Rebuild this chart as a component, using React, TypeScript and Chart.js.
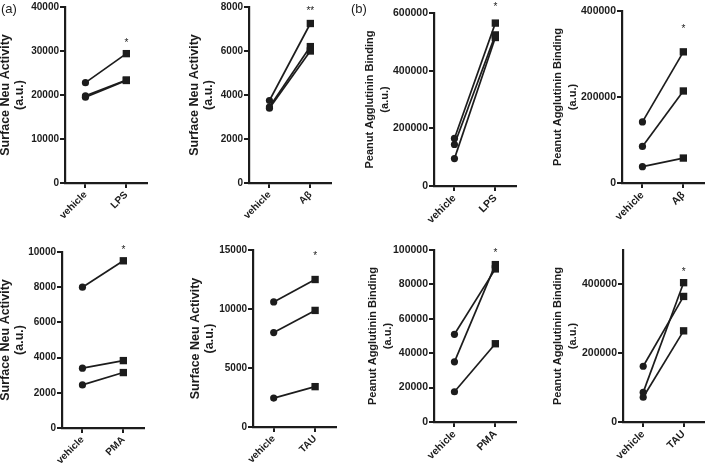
import React, { useEffect, useRef } from 'react';
import { Chart, registerables } from 'chart.js';

Chart.register(...registerables);

const FONT = "'Liberation Sans', Arial, Helvetica, sans-serif";
const INK = '#1c1c1c';

// ---- data (a) Surface Neu Activity ----
const p1Labels = ['vehicle', 'LPS'];
const p1Vehicle = [22800, 19800, 19500];
const p1Treated = [29400, 23400, 23300];

const p2Labels = ['vehicle', 'Aβ'];
const p2Vehicle = [3750, 3450, 3400];
const p2Treated = [7250, 6200, 6000];

const p5Labels = ['vehicle', 'PMA'];
const p5Vehicle = [8000, 3400, 2450];
const p5Treated = [9500, 3830, 3150];

const p6Labels = ['vehicle', 'TAU'];
const p6Vehicle = [10600, 8000, 2450];
const p6Treated = [12500, 9880, 3420];

// ---- data (b) Peanut Agglutinin Binding ----
const p3Labels = ['vehicle', 'LPS'];
const p3Vehicle = [165000, 144000, 95000];
const p3Treated = [565000, 524000, 515000];

const p4Labels = ['vehicle', 'Aβ'];
const p4Vehicle = [142000, 85000, 38000];
const p4Treated = [305000, 214000, 58000];

const p7Labels = ['vehicle', 'PMA'];
const p7Vehicle = [51000, 35000, 17600];
const p7Treated = [89000, 91500, 45500];

const p8Labels = ['vehicle', 'TAU'];
const p8Vehicle = [162000, 86000, 72000];
const p8Treated = [365000, 405000, 265000];

// ---- axes ----
const yMaxes = [40000, 8000, 600000, 400000, 10000, 15000, 100000, 500000];
const ySteps = [10000, 2000, 200000, 200000, 2000, 5000, 20000, 200000];

// ---- significance marks ----
const starTexts = ['*', '**', '*', '*', '*', '*', '*', '*'];
const starValues = [32300, 7940, 629000, 363500, 10280, 14720, 100000, 443000];

const titleA = ['Surface Neu Activity', '(a.u.)'];
const titleB = ['Peanut Agglutinin Binding', '(a.u.)'];

type Spec = {
  labels: string[];
  vehicle: number[];
  treated: number[];
  idx: number;
  title: string[];
  left: number;
  top: number;
  width: number;
  height: number;
  yWidth: number;
  xHeight: number;
  padTop: number;
  padRight: number;
  titleSize: number;
  titleLH: number;
  tickSize: number;
};

function Panel({ s }: { s: Spec }) {
  const ref = useRef<HTMLCanvasElement | null>(null);
  useEffect(() => {
    if (!ref.current) return;
    const datasets = s.vehicle.map((v, i) => ({
      data: [v, s.treated[i]],
      borderColor: INK,
      backgroundColor: INK,
      borderWidth: 1.7,
      pointStyle: ['circle', 'rect'],
      pointRadius: [3.6, 5.2],
      pointBorderWidth: 0,
      pointBackgroundColor: INK,
      fill: false,
      tension: 0,
      clip: false as any,
    }));
    const starPlugin = {
      id: 'stars' + s.idx,
      afterDatasetsDraw(chart: any) {
        const { ctx } = chart;
        const x = chart.scales.x;
        const y = chart.scales.y;
        ctx.save();
        ctx.font = `10px ${FONT}`;
        ctx.fillStyle = INK;
        ctx.textAlign = 'center';
        ctx.textBaseline = 'alphabetic';
        ctx.fillText(starTexts[s.idx], x.getPixelForValue(1), y.getPixelForValue(starValues[s.idx]) + 5.5);
        ctx.restore();
      },
    };
    const step = ySteps[s.idx];
    const yMax = yMaxes[s.idx];
    const chart = new Chart(ref.current, {
      type: 'line',
      data: { labels: s.labels, datasets: datasets as any },
      plugins: [starPlugin],
      options: {
        responsive: false,
        animation: false,
        layout: { padding: { top: s.padTop, right: s.padRight, left: 0, bottom: 0 } },
        plugins: { legend: { display: false }, tooltip: { enabled: false } },
        scales: {
          x: {
            type: 'category',
            offset: true,
            grid: { display: true, drawOnChartArea: false, drawTicks: true, tickLength: 5, color: INK, lineWidth: 2, offset: false },
            border: { display: true, color: INK, width: 2.2 },
            ticks: {
              autoSkip: false,
              minRotation: 45,
              maxRotation: 45,
              padding: 1,
              color: INK,
              font: { family: FONT, size: s.tickSize, weight: 'bold' },
            },
            afterFit: (sc: any) => {
              sc.height = s.xHeight;
            },
          },
          y: {
            type: 'linear',
            min: 0,
            max: yMax,
            grid: { display: true, drawOnChartArea: false, drawTicks: true, tickLength: 5, color: INK, lineWidth: 2 },
            border: { display: true, color: INK, width: 2.2 },
            ticks: {
              stepSize: step,
              padding: 1,
              color: INK,
              font: { family: FONT, size: s.tickSize, weight: 'bold' },
              callback: (v: any) => String(v),
            },
            afterBuildTicks: (sc: any) => {
              const t: { value: number }[] = [];
              for (let v = 0; v <= yMax + 1e-6; v += step) t.push({ value: v });
              sc.ticks = t;
            },
            title: {
              display: true,
              text: s.title,
              color: INK,
              padding: 0,
              font: { family: FONT, size: s.titleSize, weight: 'bold', lineHeight: s.titleLH },
            },
            afterFit: (sc: any) => {
              sc.width = s.yWidth;
            },
          },
        },
      },
    });
    return () => chart.destroy();
  }, [s]);
  return (
    <canvas
      ref={ref}
      width={s.width}
      height={s.height}
      style={{ position: 'absolute', left: s.left, top: s.top, width: s.width, height: s.height }}
    />
  );
}

const A = { titleSize: 12.5, titleLH: 1.15, tickSize: 10 };
const B = { titleSize: 11, titleLH: 1.4, tickSize: 10.5 };

const specs: Spec[] = [
  { labels: p1Labels, vehicle: p1Vehicle, treated: p1Treated, idx: 0, title: titleA, left: -2, top: 0, width: 154, height: 235, yWidth: 67, xHeight: 52, padTop: 7, padRight: 4, ...A },
  { labels: p2Labels, vehicle: p2Vehicle, treated: p2Treated, idx: 1, title: titleA, left: 187, top: 0, width: 149, height: 235, yWidth: 62, xHeight: 52, padTop: 7, padRight: 4, ...A },
  { labels: p3Labels, vehicle: p3Vehicle, treated: p3Treated, idx: 2, title: titleB, left: 362, top: 0, width: 159, height: 235, yWidth: 72, xHeight: 49, padTop: 13, padRight: 4, ...B },
  { labels: p4Labels, vehicle: p4Vehicle, treated: p4Treated, idx: 3, title: titleB, left: 550, top: 0, width: 159, height: 235, yWidth: 72, xHeight: 52, padTop: 11, padRight: 4, ...B },
  { labels: p5Labels, vehicle: p5Vehicle, treated: p5Treated, idx: 4, title: titleA, left: -2, top: 235, width: 151, height: 230, yWidth: 64, xHeight: 37, padTop: 17, padRight: 4, ...A },
  { labels: p6Labels, vehicle: p6Vehicle, treated: p6Treated, idx: 5, title: titleA, left: 188, top: 235, width: 153, height: 230, yWidth: 65, xHeight: 38, padTop: 15, padRight: 4, ...A },
  { labels: p7Labels, vehicle: p7Vehicle, treated: p7Treated, idx: 6, title: titleB, left: 365, top: 235, width: 156, height: 230, yWidth: 69, xHeight: 43, padTop: 15, padRight: 4, ...B },
  { labels: p8Labels, vehicle: p8Vehicle, treated: p8Treated, idx: 7, title: titleB, left: 550, top: 235, width: 159, height: 230, yWidth: 73, xHeight: 43, padTop: 15, padRight: 4, ...B },
];

export default function App() {
  return (
    <div
      style={{
        position: 'absolute',
        left: 0,
        top: 0,
        width: 709,
        height: 465,
        background: '#ffffff',
        overflow: 'hidden',
        fontFamily: FONT,
      }}
    >
      {specs.map((s) => (
        <Panel key={s.idx} s={s} />
      ))}
      <div style={{ position: 'absolute', left: 1, top: 2, fontSize: 13, lineHeight: 1, color: INK }}>(a)</div>
      <div style={{ position: 'absolute', left: 351, top: 2, fontSize: 13, lineHeight: 1, color: INK }}>(b)</div>
    </div>
  );
}
